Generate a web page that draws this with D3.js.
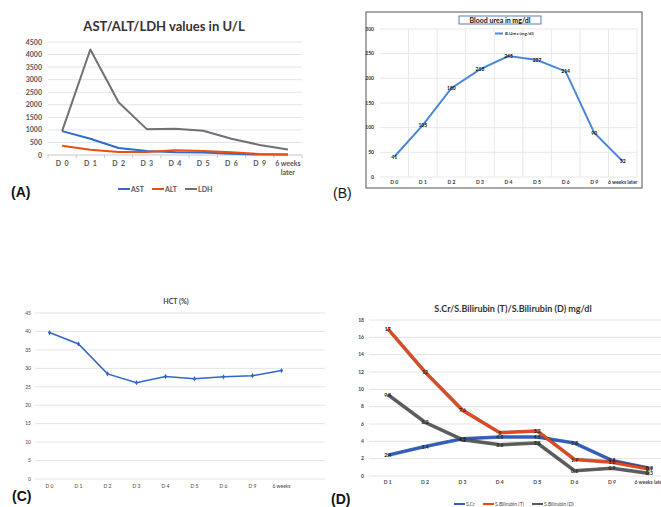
<!DOCTYPE html>
<html><head><meta charset="utf-8">
<script src="https://cdn.jsdelivr.net/npm/d3@7"></script>
<style>body{margin:0;background:#fff}svg{display:block;font-family:Lato,"Liberation Sans",sans-serif}.pl{font-family:"Liberation Sans",Arial,sans-serif}</style>
</head><body>
<svg id="c" width="661" height="507"></svg>
<script>
// ---- Panel A data ----
const catsA = ["D 0","D 1","D 2","D 3","D 4","D 5","D 6","D 9","6 weeks later"];
const ticksA = [0,500,1000,1500,2000,2500,3000,3500,4000,4500];
const astA = [950,650,280,160,105,95,50,15,15];
const altA = [370,210,120,120,185,160,105,40,20];
const ldhA = [950,4200,2100,1030,1045,965,650,400,215];
// ---- Panel B data ----
const catsB = ["D 0","D 1","D 2","D 3","D 4","D 5","D 6","D 9","6 weeks later"];
const ticksB = [0,50,100,150,200,250,300];
const ureaB = [41,105,180,218,245,237,214,90,32];
// ---- Panel C data ----
const catsC = ["D 0","D 1","D 2","D 3","D 4","D 5","D 6","D 9","6 weeks"];
const ticksC = [0,5,10,15,20,25,30,35,40,45];
const hctC = [39.7,36.6,28.5,26.1,27.8,27.2,27.7,28.0,29.4];
// ---- Panel D data ----
const catsD = ["D 1","D 2","D 3","D 4","D 5","D 6","D 9","6 weeks later"];
const ticksD = [0,2,4,6,8,10,12,14,16,18];
const scrD = [2.4,3.4,4.3,4.5,4.5,3.8,1.8,0.9];
const bilTD = [17,12,7.6,5.0,5.2,1.9,1.6,0.8];
const bilDD = [9.4,6.2,4.2,3.6,3.8,0.6,0.9,0.3];
const labScr = ["2.4","3.4","4.3","4.5","4.5","3.8","1.8","0.9"];
const labT = ["17","12","7.6","5","5.2","1.9","1.6","0.9"];
const labD = ["9.4","6.2","4.2","3.6","3.8","0.6","0.9","0.3"];

const svg = d3.select("#c");

// ================= Panel A =================
(function(){
  const g = svg.append("g");
  const xb = d3.scaleBand().domain(catsA).range([48,302]);
  const y = d3.scaleLinear().domain([0,4500]).range([155,42]);
  g.selectAll(".gl").data(ticksA.filter(t=>t>0)).join("line")
    .attr("x1",48).attr("x2",302).attr("y1",d=>y(d)).attr("y2",d=>y(d))
    .attr("stroke","#dfe4ec").attr("stroke-width",1);
  g.append("line").attr("x1",48).attr("x2",302).attr("y1",y(0)).attr("y2",y(0)).attr("stroke","#c8c8c8");
  g.selectAll(".tk").data(d3.range(0,10)).join("line")
    .attr("x1",d=>48+d*xb.step()).attr("x2",d=>48+d*xb.step()).attr("y1",155).attr("y2",158).attr("stroke","#c8c8c8");
  g.selectAll(".yl").data(ticksA).join("text")
    .attr("x",42).attr("y",d=>y(d)+2.5).attr("text-anchor","end")
    .attr("font-size",7).attr("font-weight","bold").attr("fill","#555").text(d=>d);
  catsA.forEach((c,i)=>{
    const cx = xb(c)+xb.bandwidth()/2;
    if(c==="6 weeks later"){
      g.append("text").attr("x",cx).attr("y",166).attr("text-anchor","middle").attr("font-size",7).attr("font-weight","bold").attr("fill","#555").text("6 weeks");
      g.append("text").attr("x",cx).attr("y",175).attr("text-anchor","middle").attr("font-size",7).attr("font-weight","bold").attr("fill","#555").text("later");
    } else {
      g.append("text").attr("x",cx).attr("y",166).attr("text-anchor","middle").attr("font-size",7).attr("font-weight","bold").attr("fill","#555").attr("xml:space","preserve").text(c.replace(" ","  "));
    }
  });
  const line = d3.line().x((d,i)=>xb(catsA[i])+xb.bandwidth()/2).y(d=>y(d));
  const series = [[ldhA,"#707070","LDH"],[astA,"#2e6bd1","AST"],[altA,"#f04c12","ALT"]];
  series.forEach(s=>{
    g.append("path").datum(s[0]).attr("d",line).attr("fill","none").attr("stroke",s[1]).attr("stroke-width",2).attr("stroke-linejoin","round");
  });
  g.append("text").attr("x",164).attr("y",31).attr("text-anchor","middle").attr("font-size",13).attr("font-weight","bold").attr("fill","#333").text("AST/ALT/LDH values in U/L");
  const leg = [["AST","#2e6bd1",118],["ALT","#f04c12",152],["LDH","#707070",185]];
  leg.forEach(l=>{
    g.append("line").attr("x1",l[2]).attr("x2",l[2]+12).attr("y1",189).attr("y2",189).attr("stroke",l[1]).attr("stroke-width",2);
    g.append("text").attr("x",l[2]+13).attr("y",191.5).attr("font-size",7).attr("fill","#555").attr("font-weight","bold").text(l[0]);
  });
  g.append("text").attr("class","pl").attr("x",11).attr("y",197).attr("font-size",14).attr("font-weight","bold").attr("fill","#111").text("(A)");
})();

// ================= Panel B =================
(function(){
  const g = svg.append("g");
  g.append("rect").attr("x",366).attr("y",12).attr("width",276).attr("height",176).attr("fill","#fff").attr("stroke","#555").attr("stroke-width",1);
  const xb = d3.scaleBand().domain(catsB).range([380,637]);
  const y = d3.scaleLinear().domain([0,300]).range([177,29]);
  g.selectAll(".gl").data(ticksB).join("line")
    .attr("x1",380).attr("x2",637).attr("y1",d=>y(d)).attr("y2",d=>y(d))
    .attr("stroke","#e8e8e8");
  g.selectAll(".vg").data(d3.range(1,10)).join("line")
    .attr("x1",d=>380+d*xb.step()).attr("x2",d=>380+d*xb.step()).attr("y1",y(300)).attr("y2",y(0))
    .attr("stroke","#e8e8e8");
  g.selectAll(".yl").data(ticksB).join("text")
    .attr("x",374).attr("y",d=>y(d)+1.8).attr("text-anchor","end")
    .attr("font-size",5).attr("font-weight","bold").attr("fill","#333").text(d=>d);
  g.selectAll(".xl").data(catsB).join("text")
    .attr("x",d=>xb(d)+xb.bandwidth()/2).attr("y",184).attr("text-anchor","middle")
    .attr("font-size",5).attr("font-weight","bold").attr("fill","#333").text(d=>d);
  const line = d3.line().x((d,i)=>xb(catsB[i])+xb.bandwidth()/2).y(d=>y(d));
  g.append("path").datum(ureaB).attr("d",line).attr("fill","none").attr("stroke","#4a87d9").attr("stroke-width",2);
  g.selectAll(".dl").data(ureaB).join("text")
    .attr("x",(d,i)=>xb(catsB[i])+xb.bandwidth()/2).attr("y",d=>y(d)+2)
    .attr("text-anchor","middle").attr("font-size",5).attr("font-weight","bold").attr("fill","#111").text(d=>d);
  g.append("rect").attr("x",459).attr("y",16).attr("width",82).attr("height",8).attr("fill","#fff").attr("stroke","#5b7fae").attr("stroke-width",1);
  g.append("text").attr("x",500).attr("y",22.5).attr("text-anchor","middle").attr("font-size",7).attr("font-weight","bold").attr("fill","#111").text("Blood urea in mg/dl");
  g.append("line").attr("x1",495).attr("x2",503).attr("y1",33.5).attr("y2",33.5).attr("stroke","#4a87d9").attr("stroke-width",2);
  g.append("text").attr("x",505).attr("y",35).attr("font-size",4.5).attr("font-weight","bold").attr("fill","#333").text("B.Urea (mg/dl)");
  g.append("text").attr("class","pl").attr("x",333).attr("y",198).attr("font-size",14).attr("fill","#111").text("(B)");
})();

// ================= Panel C =================
(function(){
  const g = svg.append("g");
  const xb = d3.scaleBand().domain(catsC.concat([""])).range([35,325]);
  const y = d3.scaleLinear().domain([0,45]).range([479,313]);
  g.selectAll(".gl").data(ticksC).join("line")
    .attr("x1",35).attr("x2",325).attr("y1",d=>y(d)).attr("y2",d=>y(d))
    .attr("stroke","#e4e4e4");
  g.selectAll(".yl").data(ticksC).join("text")
    .attr("x",31).attr("y",d=>y(d)+1.8).attr("text-anchor","end")
    .attr("font-size",5).attr("fill","#444").text(d=>d);
  g.selectAll(".xl").data(catsC).join("text")
    .attr("x",d=>xb(d)+xb.bandwidth()/2).attr("y",488).attr("text-anchor","middle")
    .attr("font-size",5).attr("fill","#444").text(d=>d);
  const cx = (d,i)=>xb(catsC[i])+xb.bandwidth()/2;
  const line = d3.line().x(cx).y(d=>y(d));
  g.append("path").datum(hctC).attr("d",line).attr("fill","none").attr("stroke","#2f66c8").attr("stroke-width",1.5);
  g.selectAll(".mk").data(hctC).join("path")
    .attr("d",d3.symbol(d3.symbolDiamond,8))
    .attr("transform",(d,i)=>`translate(${cx(d,i)},${y(d)})`).attr("fill","#2f66c8");
  g.append("text").attr("x",176).attr("y",304).attr("text-anchor","middle").attr("font-size",7).attr("font-weight","bold").attr("fill","#444").text("HCT (%)");
  g.append("text").attr("class","pl").attr("x",12).attr("y",501).attr("font-size",14).attr("font-weight","bold").attr("fill","#111").text("(C)");
})();

// ================= Panel D =================
(function(){
  const g = svg.append("g");
  const xb = d3.scaleBand().domain(catsD).range([369,668]);
  const y = d3.scaleLinear().domain([0,18]).range([476,320]);
  g.selectAll(".gl").data(ticksD).join("line")
    .attr("x1",369).attr("x2",661).attr("y1",d=>y(d)).attr("y2",d=>y(d))
    .attr("stroke","#e4e4e4");
  g.selectAll(".yl").data(ticksD).join("text")
    .attr("x",364).attr("y",d=>y(d)+1.8).attr("text-anchor","end")
    .attr("font-size",5).attr("font-weight","bold").attr("fill","#444").text(d=>d);
  g.selectAll(".xl").data(catsD).join("text")
    .attr("x",d=>xb(d)+xb.bandwidth()/2).attr("y",484).attr("text-anchor","middle")
    .attr("font-size",5).attr("font-weight","bold").attr("fill","#444").text(d=>d);
  const cx = (d,i)=>xb(catsD[i])+xb.bandwidth()/2;
  const line = d3.line().x(cx).y(d=>y(d));
  const series = [[scrD,"#2e5fbd","#1d3d7a",labScr],[bilDD,"#5a5a5a","#333",labD],[bilTD,"#e8461a","#7a2a10",labT]];
  series.forEach(s=>{
    g.append("path").datum(s[0]).attr("d",line).attr("fill","none").attr("stroke",s[2]).attr("stroke-width",3.6).attr("stroke-linejoin","round").attr("opacity",0.7);
    g.append("path").datum(s[0]).attr("d",line).attr("fill","none").attr("stroke",s[1]).attr("stroke-width",2.4).attr("stroke-linejoin","round");
  });
  series.forEach(s=>{
    g.selectAll(null).data(s[0]).join("text")
      .attr("x",cx).attr("y",d=>y(d)+2)
      .attr("text-anchor","middle").attr("font-size",5).attr("font-weight","bold").attr("fill","#222").text((d,i)=>s[3][i]);
  });
  g.append("text").attr("x",513).attr("y",312).attr("text-anchor","middle").attr("font-size",9).attr("font-weight","bold").attr("fill","#333").text("S.Cr/S.Bilirubin (T)/S.Bilirubin (D) mg/dl");
  const leg = [["S.Cr","#2e5fbd",454],["S.Bilirubin (T)","#e8461a",483],["S.Bilirubin (D)","#5a5a5a",532]];
  leg.forEach(l=>{
    g.append("line").attr("x1",l[2]).attr("x2",l[2]+11).attr("y1",504).attr("y2",504).attr("stroke",l[1]).attr("stroke-width",2);
    g.append("text").attr("x",l[2]+12).attr("y",506).attr("font-size",5).attr("fill","#444").text(l[0]);
  });
  g.append("text").attr("class","pl").attr("x",331).attr("y",504).attr("font-size",14).attr("font-weight","bold").attr("fill","#111").text("(D)");
})();
</script>
</body></html>
